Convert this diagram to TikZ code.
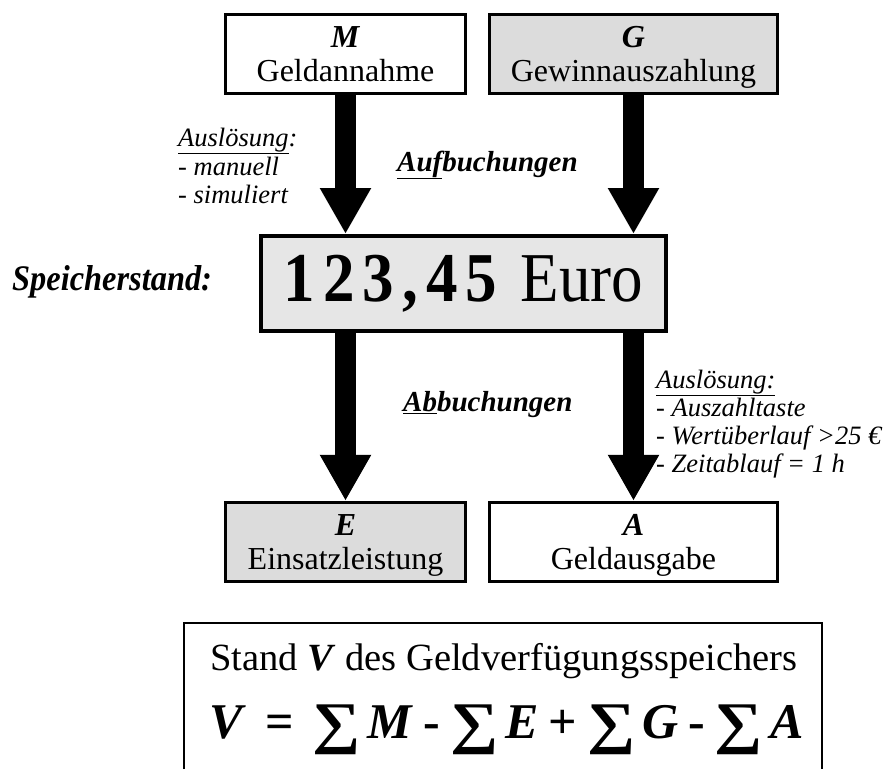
\documentclass[tikz,border=0pt]{standalone}
\usepackage{fontspec}
\setmainfont{Liberation Serif}
\usetikzlibrary{arrows.meta}
\definecolor{boxgray}{HTML}{DCDCDC}
\definecolor{biggray}{HTML}{E6E6E6}
\newcommand{\mysum}{\raisebox{-4pt}{\scalebox{1.35}[1.15]{∑}}}
\begin{document}
\begin{tikzpicture}[x=1pt,y=-1pt,
  smallbox/.style={draw, line width=3.3pt, minimum height=79pt, inner sep=0pt,
    align=center, text depth=0pt, font=\fontsize{32}{34}\selectfont},
  bigbox/.style={draw, line width=4pt, fill=biggray, minimum width=405pt, minimum height=95pt, inner sep=0pt},
  bigarrow/.style={line width=21pt, -{Triangle[length=46pt, width=48pt]}},
  note/.style={anchor=base west, inner sep=0pt, font=\fontsize{26.5}{28}\selectfont\itshape},
  label/.style={anchor=base west, inner sep=0pt, font=\fontsize{29}{32}\selectfont\bfseries\itshape}]
\useasboundingbox (0,0) rectangle (892,769);
% boxes
\node[smallbox, minimum width=240pt] (M) at (345.5,54) {\textbf{\textit{M}}\\Geldannahme};
\node[smallbox, minimum width=288pt, fill=boxgray] (G) at (633.5,54) {\textbf{\textit{G}}\\Gewinnauszahlung};
\node[bigbox] (big) at (463.5,283.5) {\scalebox{0.9}[1]{\fontsize{70}{72}\selectfont\textbf{1\kern9pt 2\kern9pt 3\kern9pt ,\kern9pt 4\kern9pt 5}\kern26pt Euro}};
\node[smallbox, minimum width=240pt, fill=boxgray] (E) at (345.5,542) {\textbf{\textit{E}}\\Einsatzleistung};
\node[smallbox, minimum width=288pt] (A) at (633.5,542) {\textbf{\textit{A}}\\Geldausgabe};
% arrows
\draw[bigarrow] (M.south) -- (M.south |- big.north);
\draw[bigarrow] (G.south) -- (G.south |- big.north);
\draw[bigarrow] (big.south -| E.north) -- (E.north);
\draw[bigarrow] (big.south -| A.north) -- (A.north);
% labels
\node[note] (ausl1) at (178,146) {\underline{Auslösung}:};
\node[note] (ausl1a) at (178,175) {- manuell};
\node[note] (ausl1b) at (178,203) {- simuliert};
\node[label] (auf) at (397,171) {\underline{Auf}buchungen};
\node[anchor=base west, inner sep=0pt, font=\fontsize{36}{38}\selectfont\bfseries\itshape] (speicher) at (12,290) {\scalebox{0.9}[1]{Speicherstand:}};
\node[label] (ab) at (403,411) {\underline{Ab}buchungen};
\node[note] (ausl2) at (656,388) {\underline{Auslösung:}};
\node[note] (ausl2a) at (656,416) {- Auszahltaste};
\node[note] (ausl2b) at (656,444) {- Wertüberlauf >25 €};
\node[note] (ausl2c) at (656,472) {- Zeitablauf = 1 h};
% formula box
\coordinate (fbl) at (184,769);
\coordinate (fbr) at (822,769);
\draw[line width=2pt] (fbl) -- (184,623) -- (822,623) -- (fbr);
\node[anchor=base west, inner sep=0pt, font=\fontsize{38.5}{40}\selectfont] (stand) at (210,670) {Stand \textbf{\textit{V}} des Geldverfügungsspeichers};
\node[anchor=base west, inner sep=0pt, font=\fontsize{50}{52}\selectfont\bfseries] (formula) at (209,738) {\textit{V}\hspace{20pt}=\hspace{18pt}\mysum\hspace{7pt}\textit{M}\hspace{10pt}-\hspace{10pt}\mysum\hspace{7pt}\textit{E}\hspace{10pt}+\hspace{10pt}\mysum\hspace{7pt}\textit{G}\hspace{10pt}-\hspace{10pt}\mysum\hspace{7pt}\textit{A}};
\end{tikzpicture}
\end{document}
